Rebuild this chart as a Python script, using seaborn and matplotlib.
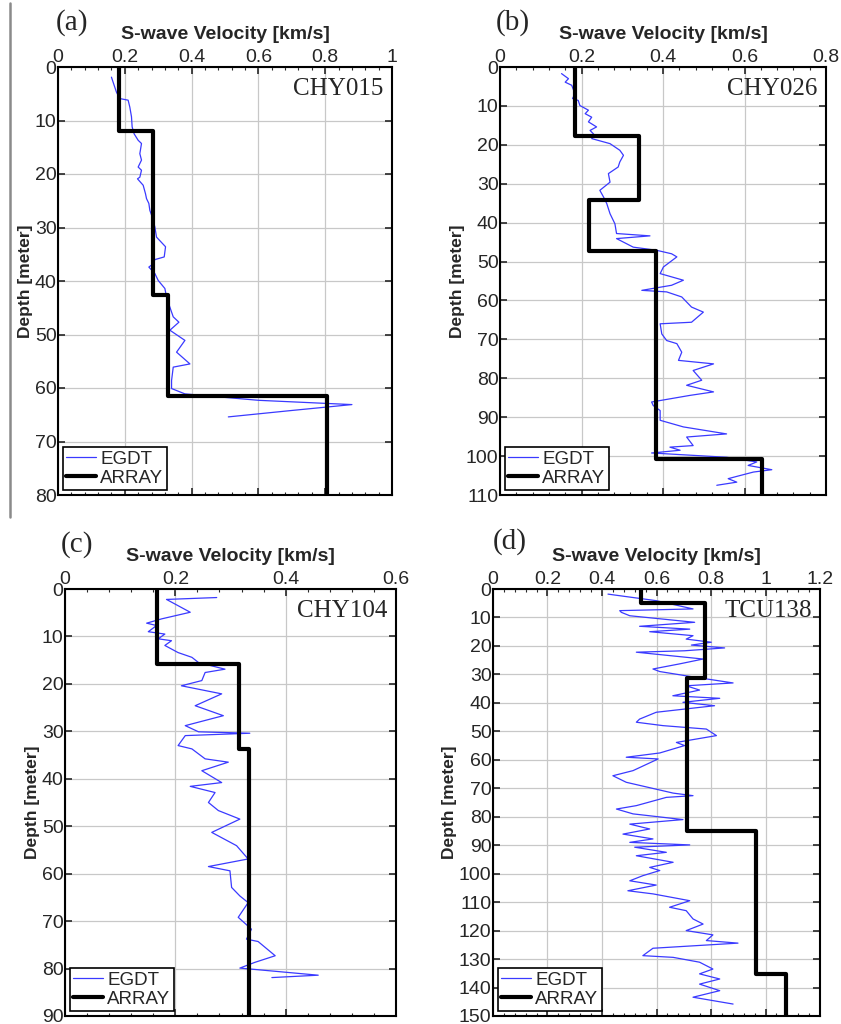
import numpy as np
import pandas as pd
import matplotlib
matplotlib.use("Agg")
import matplotlib.pyplot as plt
import seaborn as sns
from matplotlib.ticker import MultipleLocator, AutoMinorLocator, FuncFormatter
from matplotlib.lines import Line2D

# ---------------- data ----------------
panel_labels = ["(a)", "(b)", "(c)", "(d)"]
stations = ["CHY015", "CHY026", "CHY104", "TCU138"]
x_max = [1.0, 0.8, 0.6, 1.2]
depth_max = [80, 110, 90, 150]

# EGDT profiles (velocity km/s, depth m)
egdt_a_vel = [0.16, 0.175, 0.185, 0.21, 0.215, 0.22, 0.222, 0.228, 0.24, 0.25, 0.245, 0.25, 0.24, 0.25,
              0.245, 0.238, 0.255, 0.262, 0.265, 0.272, 0.275, 0.282, 0.29, 0.295, 0.322, 0.318, 0.29,
              0.285, 0.272, 0.29, 0.30, 0.32, 0.325, 0.335, 0.345, 0.362, 0.335, 0.38, 0.355, 0.395,
              0.345, 0.34, 0.34, 0.38, 0.60, 0.88, 0.70, 0.51]
egdt_a_dep = [1.9, 4.7, 5.9, 6.2, 7.5, 9.3, 11.2, 12.5, 13.7, 14.3, 16.2, 17.4, 18.7, 19.3, 20.6, 20.9,
              22.1, 23.7, 24.6, 25.5, 26.8, 28.0, 29.9, 31.8, 33.6, 35.5, 36.0, 36.8, 37.4, 38.6, 39.9,
              41.4, 43.0, 44.9, 46.7, 47.7, 49.2, 51.1, 53.3, 55.5, 56.1, 58.6, 60.1, 61.1, 62.3, 63.1,
              64.2, 65.4]

egdt_b_vel = [0.151, 0.168, 0.16, 0.176, 0.184, 0.178, 0.192, 0.196, 0.217, 0.209, 0.225, 0.217, 0.237,
              0.221, 0.233, 0.225, 0.27, 0.294, 0.303, 0.294, 0.29, 0.266, 0.27, 0.245, 0.254, 0.262,
              0.27, 0.282, 0.286, 0.368, 0.286, 0.327, 0.384, 0.421, 0.434, 0.401, 0.393, 0.45, 0.421,
              0.348, 0.409, 0.446, 0.47, 0.499, 0.47, 0.393, 0.397, 0.409, 0.434, 0.446, 0.438, 0.524,
              0.474, 0.495, 0.458, 0.524, 0.466, 0.372, 0.376, 0.393, 0.393, 0.45, 0.556, 0.458, 0.474,
              0.417, 0.442, 0.372, 0.556, 0.63, 0.609, 0.667, 0.622, 0.589, 0.56, 0.581, 0.532]
egdt_b_dep = [1.7, 3.0, 3.9, 4.7, 6.9, 8.1, 8.6, 9.9, 11.1, 12.0, 12.9, 14.1, 15.4, 16.3, 17.6, 18.4,
              19.7, 21.4, 22.7, 24.4, 25.7, 27.4, 29.6, 31.7, 33.4, 35.1, 37.7, 40.3, 42.8, 43.4, 44.1,
              46.3, 47.1, 48.0, 48.8, 51.4, 53.1, 54.8, 56.1, 57.4, 57.8, 59.1, 61.7, 63.0, 65.6, 66.0,
              68.6, 70.3, 71.1, 73.3, 75.4, 76.3, 78.0, 80.5, 81.8, 83.5, 84.4, 86.1, 87.0, 88.3, 90.8,
              92.5, 94.3, 95.1, 97.3, 97.7, 98.5, 99.2, 100.3, 101.5, 102.4, 103.5, 104.1, 105.0,
              105.8, 106.7, 107.5]

egdt_c_vel = [0.275, 0.184, 0.227, 0.175, 0.148, 0.166, 0.151, 0.181, 0.169, 0.193, 0.181, 0.205, 0.23,
              0.242, 0.266, 0.29, 0.254, 0.248, 0.211, 0.284, 0.236, 0.287, 0.218, 0.242, 0.335, 0.218,
              0.205, 0.23, 0.254, 0.296, 0.248, 0.284, 0.227, 0.272, 0.26, 0.278, 0.317, 0.266, 0.311,
              0.332, 0.26, 0.299, 0.302, 0.317, 0.332, 0.314, 0.338, 0.329, 0.35, 0.381, 0.344, 0.317,
              0.459, 0.375]
egdt_c_dep = [1.8, 2.2, 4.9, 6.3, 7.2, 7.7, 9.0, 9.5, 10.5, 10.9, 11.9, 13.4, 14.4, 15.5, 16.2, 16.9,
              17.6, 19.3, 20.4, 22.1, 24.6, 26.7, 28.8, 30.1, 30.4, 30.9, 33.0, 33.7, 35.8, 36.5, 38.3,
              40.8, 41.6, 42.9, 45.0, 46.7, 48.5, 51.3, 54.1, 56.9, 58.5, 59.4, 62.9, 64.7, 66.1, 69.2,
              71.7, 73.8, 74.3, 77.3, 78.7, 79.9, 81.4, 81.9]

egdt_d_vel = [0.422, 0.599, 0.734, 0.465, 0.471, 0.502, 0.74, 0.538, 0.722, 0.575, 0.734, 0.709, 0.801,
              0.728, 0.85, 0.703, 0.526, 0.771, 0.685, 0.587, 0.612, 0.722, 0.881, 0.709, 0.758, 0.66,
              0.832, 0.697, 0.813, 0.599, 0.538, 0.526, 0.624, 0.783, 0.82, 0.673, 0.703, 0.612, 0.489,
              0.606, 0.514, 0.44, 0.489, 0.661, 0.734, 0.636, 0.526, 0.453, 0.514, 0.697, 0.502, 0.575,
              0.477, 0.587, 0.502, 0.722, 0.52, 0.636, 0.526, 0.661, 0.575, 0.612, 0.55, 0.502, 0.599,
              0.495, 0.587, 0.722, 0.648, 0.709, 0.734, 0.771, 0.709, 0.807, 0.783, 0.899, 0.587, 0.55,
              0.661, 0.758, 0.807, 0.758, 0.832, 0.758, 0.832, 0.734, 0.881]
egdt_d_dep = [1.8, 4.1, 7.0, 7.6, 8.2, 9.4, 11.7, 13.1, 14.1, 15.0, 16.4, 17.6, 18.7, 19.7, 20.7, 21.7,
              22.2, 24.6, 26.3, 28.1, 29.0, 30.7, 33.0, 34.0, 35.5, 37.5, 38.4, 39.8, 41.0, 43.3, 45.7,
              46.8, 48.0, 49.2, 51.5, 53.9, 55.0, 57.6, 59.1, 59.7, 63.8, 65.6, 67.9, 71.7, 72.6, 73.2,
              76.1, 77.3, 79.0, 81.0, 82.6, 84.3, 86.1, 87.8, 89.0, 89.9, 90.7, 92.5, 93.7, 96.0, 97.8,
              98.9, 100.7, 102.5, 104.0, 106.0, 107.1, 109.5, 111.8, 113.0, 115.9, 117.7, 120.0, 121.5,
              123.5, 124.4, 126.2, 128.8, 129.4, 131.1, 133.5, 135.2, 137.0, 138.8, 141.1, 143.4, 145.8]

# ARRAY layered models: layer boundaries (m) and layer velocities (km/s)
array_a_bounds = [0, 12.0, 42.7, 61.5, 80]
array_a_vel = [0.182, 0.285, 0.328, 0.805]
array_b_bounds = [0, 17.7, 34.3, 47.3, 100.8, 110]
array_b_vel = [0.184, 0.342, 0.218, 0.384, 0.644]
array_c_bounds = [0, 15.8, 33.7, 90]
array_c_vel = [0.167, 0.315, 0.334]
array_d_bounds = [0, 4.9, 31.4, 84.9, 135.2, 150]
array_d_vel = [0.542, 0.777, 0.712, 0.966, 1.076]

egdt = [(egdt_a_vel, egdt_a_dep), (egdt_b_vel, egdt_b_dep), (egdt_c_vel, egdt_c_dep), (egdt_d_vel, egdt_d_dep)]
arrays = [(array_a_bounds, array_a_vel), (array_b_bounds, array_b_vel),
          (array_c_bounds, array_c_vel), (array_d_bounds, array_d_vel)]

# ---------------- style ----------------
sns.set_theme(style="ticks")
plt.rcParams['font.family'] = ['Liberation Sans', 'DejaVu Sans']
plt.rcParams['axes.linewidth'] = 1.5

fig = plt.figure(figsize=(8.41, 10.24), dpi=100)

# axes rectangles in figure pixels: left, top, right, bottom
W, H = 841, 1024
boxes = [(58, 67, 392, 495), (500, 67, 826, 495), (65, 589, 396, 1016), (493, 589, 820, 1016)]
plabel_pos = [(72, 23), (513, 23), (77, 545), (510, 542)]

fmt = FuncFormatter(lambda v, _: f"{v:g}")

for i in range(4):
    l, t, r, b = boxes[i]
    ax = fig.add_axes([l / W, 1 - b / H, (r - l) / W, (b - t) / H])
    vel, dep = egdt[i]
    df_e = pd.DataFrame({"vel": vel, "dep": dep})
    bounds, avel = arrays[i]
    step_dep, step_vel = [], []
    for k, v in enumerate(avel):
        step_dep += [bounds[k], bounds[k + 1]]
        step_vel += [v, v]
    df_a = pd.DataFrame({"vel": step_vel, "dep": step_dep})

    sns.lineplot(data=df_e, x="vel", y="dep", sort=False, estimator=None, ax=ax,
                 color="#3a3aff", lw=0.9, label="EGDT")
    sns.lineplot(data=df_a, x="vel", y="dep", sort=False, estimator=None, ax=ax,
                 color="black", lw=3.0, label="ARRAY")

    ax.set_xlim(0, x_max[i])
    ax.set_ylim(depth_max[i], 0)
    ax.xaxis.set_major_locator(MultipleLocator(0.2))
    ax.xaxis.set_minor_locator(AutoMinorLocator(5))
    ax.yaxis.set_major_locator(MultipleLocator(10))
    ax.xaxis.set_major_formatter(fmt)
    ax.xaxis.tick_top()
    ax.xaxis.set_label_position("top")
    ax.tick_params(axis="x", which="both", direction="in", top=True, bottom=True,
                   labeltop=True, labelbottom=False, labelsize=14, pad=1)
    ax.tick_params(axis="x", which="major", length=5, width=1.2)
    ax.tick_params(axis="x", which="minor", length=2.5, width=0.8)
    ax.tick_params(axis="y", which="major", direction="in", left=True, right=True,
                   length=5, width=1.2, labelsize=14, pad=1)
    ax.grid(True, which="major", color="#c8c8c8", lw=0.9)
    ax.set_axisbelow(True)
    for s in ax.spines.values():
        s.set_visible(True)
        s.set_linewidth(1.5)
        s.set_color("black")
    ax.set_xlabel("S-wave Velocity [km/s]", fontsize=14, fontweight="bold", labelpad=7)
    ax.set_ylabel("Depth [meter]", fontsize=12.5, fontweight="bold", labelpad=1)

    ax.text(0.975, 0.975, stations[i], transform=ax.transAxes, ha="right", va="top",
            fontsize=18, family=["Liberation Serif", "DejaVu Serif"])

    leg = ax.legend(loc="lower left", fontsize=13.5, frameon=True, fancybox=False,
                    edgecolor="black", framealpha=1, handlelength=1.6, borderpad=0.2,
                    labelspacing=0.1, handletextpad=0.2, borderaxespad=0.25)
    leg.get_frame().set_linewidth(1.2)

    px, py = plabel_pos[i]
    fig.text(px / W, 1 - py / H, panel_labels[i], ha="center", va="center",
             fontsize=21, family=["Liberation Serif", "DejaVu Serif"])

# decorative vertical rule at the left of the upper row
fig.add_artist(Line2D([10 / W, 10 / W], [1 - 3 / H, 1 - 517 / H], color="#8a8a8a", lw=1.8))

fig.savefig("out.png", dpi=100)
